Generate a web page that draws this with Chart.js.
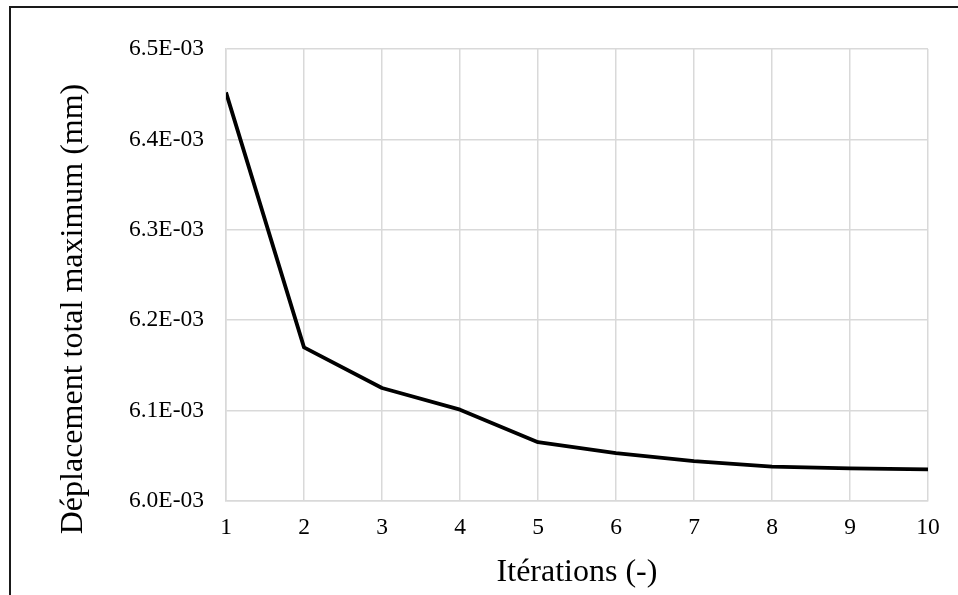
<!DOCTYPE html>
<html>
<head>
<meta charset="utf-8">
<script src="https://cdn.jsdelivr.net/npm/chart.js@4.4.0/dist/chart.umd.min.js"></script>
<style>
    html, body { margin: 0; padding: 0; background: #fff; }
    #wrap { width: 958px; height: 595px; }
</style>
</head>
<body>
<div id="wrap"><canvas id="chart" width="958" height="595"></canvas></div>
<script>
// iterations and max total displacement (mm)
const iterations = [1, 2, 3, 4, 5, 6, 7, 8, 9, 10];
const deplacement = [0.006452, 0.006170, 0.006125, 0.006101, 0.006065,
                     0.006053, 0.006044, 0.006038, 0.006036, 0.006035];
const xTitle = 'Itérations (-)';
const yTitle = 'Déplacement total maximum (mm)';

function formatSci(value) {
    // 0.0065 -> "6.5E-03"
    let parts = Number(value).toExponential(1).split('e');
    let exp = parseInt(parts[1], 10);
    let sign = exp < 0 ? '-' : '+';
    let digits = String(Math.abs(exp)).padStart(2, '0');
    return parts[0] + 'E' + sign + digits;
}

// frame around the chart + rotated y title (offset like the original)
const decorPlugin = {
    id: 'decor',
    beforeDraw: function(chart) {
        const ctx = chart.ctx;
        ctx.save();
        ctx.strokeStyle = '#1a1a1a';
        ctx.lineWidth = 2;
        ctx.beginPath();
        ctx.moveTo(10, 595);
        ctx.lineTo(10, 7);
        ctx.lineTo(958, 7);
        ctx.stroke();
        ctx.restore();
    },
    afterDraw: function(chart) {
        const ctx = chart.ctx;
        ctx.save();
        ctx.translate(74, 309);
        ctx.rotate(-Math.PI / 2);
        ctx.font = '32px "Liberation Serif", "Times New Roman", serif';
        ctx.fillStyle = '#000';
        ctx.textAlign = 'center';
        ctx.textBaseline = 'middle';
        ctx.fillText(yTitle, 0, 0);
        ctx.restore();
    }
};

const points = iterations.map(function(it, i) {
    return { x: it, y: deplacement[i] };
});

Chart.defaults.font.family = '"Liberation Serif", "Times New Roman", serif';
Chart.defaults.color = '#000';

const config = {
    type: 'line',
    data: {
        datasets: [{
            data: points,
            borderColor: '#000',
            borderWidth: 3.8,
            borderJoinStyle: 'round',
            pointRadius: 0,
            fill: false,
            tension: 0
        }]
    },
    options: {
        responsive: false,
        animation: false,
        layout: {
            padding: { left: 0, top: 49, right: 30, bottom: 0 }
        },
        plugins: {
            legend: { display: false },
            tooltip: { enabled: false }
        },
        scales: {
            x: {
                type: 'linear',
                min: 1,
                max: 10,
                ticks: {
                    stepSize: 1,
                    padding: 13,
                    font: { size: 23.5 }
                },
                grid: { color: '#d9d9d9', lineWidth: 1.5, drawTicks: false },
                border: { color: '#d9d9d9', width: 1.5 },
                title: {
                    display: true,
                    text: xTitle,
                    font: { size: 32 },
                    padding: { top: 0, bottom: 3 }
                },
                afterFit: function(scale) { scale.height = 94; }
            },
            y: {
                min: 0.0060,
                max: 0.0065,
                ticks: {
                    stepSize: 0.0001,
                    padding: 22,
                    font: { size: 23.5 },
                    callback: function(v) { return formatSci(v); }
                },
                grid: { color: '#d9d9d9', lineWidth: 1.5, drawTicks: false },
                border: { color: '#d9d9d9', width: 1.5 },
                afterFit: function(scale) { scale.width = 226; }
            }
        }
    },
    plugins: [decorPlugin]
};

const myChart = new Chart(document.getElementById('chart'), config);
</script>
</body>
</html>
